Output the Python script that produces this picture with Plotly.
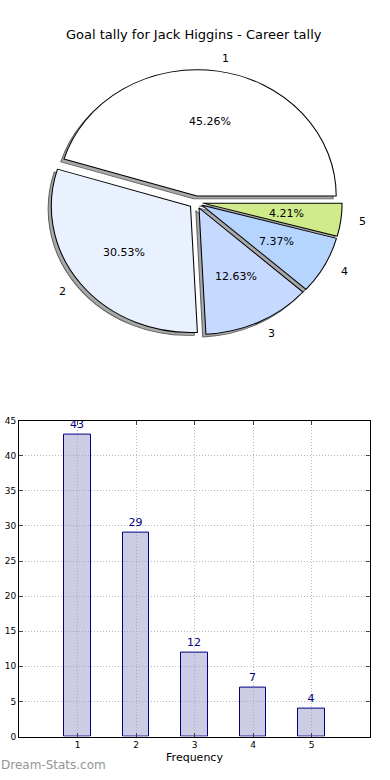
import math
import plotly.graph_objects as go

# ---- data ----
categories = ["1", "2", "3", "4", "5"]
goals = [43, 29, 12, 7, 4]
slice_colors = ["#ffffff", "#e9f1fe", "#c6d9ff", "#b5d5ff", "#cfeb8a"]
title_text = "Goal tally for Jack Higgins - Career tally"
y_ticks = [0, 5, 10, 15, 20, 25, 30, 35, 40, 45]

W, H = 390, 780
FONT = "DejaVu Sans"

# ---- pie geometry (pixels) ----
pull = 0.05
cx, cy = 196, 200
r = 134.5                 # base radius of the plotly pie
rx, ry = 141.0, 128.0     # the reference pie is slightly elliptical
sx, sy = rx / r, ry / r
half = r * (1 + pull)     # half-size of the domain

def px_dom_x(a, b):
    return [a / W, b / W]

def px_dom_y(top, bottom):
    return [(H - bottom) / H, (H - top) / H]

total = sum(goals)
rotation = 90 - 360 * goals[0] / total

fig = go.Figure()

# shadow pie
sdx, sdy = -3, 3
fig.add_trace(go.Pie(
    values=goals, labels=categories, sort=False, direction="counterclockwise",
    rotation=rotation, pull=[pull] * len(goals),
    marker=dict(colors=["#a8a8a8"] * len(goals), line=dict(color="#606060", width=1)),
    textinfo="none", hoverinfo="skip", showlegend=False,
    domain=dict(x=px_dom_x(cx + sdx - half, cx + sdx + half),
                y=px_dom_y(cy + sdy - half, cy + sdy + half)),
))

# main pie
fig.add_trace(go.Pie(
    values=goals, labels=categories, sort=False, direction="counterclockwise",
    rotation=rotation, pull=[pull] * len(goals),
    marker=dict(colors=slice_colors, line=dict(color="#000000", width=1)),
    textinfo="none", showlegend=False,
    domain=dict(x=px_dom_x(cx - half, cx + half),
                y=px_dom_y(cy - half, cy + half)),
))

# pie texts (percentages and labels), positioned from the data
annotations = []
cum = 0
for lab, v in zip(categories, goals):
    a0 = 360 * cum / total
    a1 = 360 * (cum + v) / total
    cum += v
    am = math.radians((a0 + a1) / 2)
    ex = cx + pull * rx * math.cos(am)
    ey = cy - pull * ry * math.sin(am)
    pxp = ex + 0.6 * rx * math.cos(am)
    pyp = ey - 0.6 * ry * math.sin(am)
    annotations.append(dict(
        x=pxp / W, y=(H - pyp) / H, xref="paper", yref="paper",
        text=f"{100 * v / total:.2f}%", showarrow=False,
        xanchor="center", yanchor="middle",
        font=dict(family=FONT, size=11, color="#000000")))
    lx = ex + 1.1 * rx * math.cos(am)
    ly = ey - 1.1 * ry * math.sin(am)
    annotations.append(dict(
        x=lx / W, y=(H - ly) / H, xref="paper", yref="paper",
        text=lab, showarrow=False,
        xanchor="left" if math.cos(am) > 0 else "right", yanchor="middle",
        font=dict(family=FONT, size=11, color="#000000")))

# bar chart
x_vals = [int(c) for c in categories]
fig.add_trace(go.Bar(
    x=x_vals, y=goals, width=0.45,
    marker=dict(color="rgba(153,153,204,0.5)", line=dict(color="#000080", width=1)),
    text=[str(g) for g in goals], textposition="outside", cliponaxis=False,
    textfont=dict(family=FONT, size=11, color="#000080"),
    showlegend=False, xaxis="x", yaxis="y",
))

annotations.append(dict(
    x=194 / W, y=(H - 30) / H, xref="paper", yref="paper", text=title_text,
    showarrow=False, xanchor="center", yanchor="middle",
    font=dict(family=FONT, size=13, color="#000000")))
annotations.append(dict(
    x=-1 / W, y=(H - 770) / H, xref="paper", yref="paper", text="Dream-Stats.com",
    showarrow=False, xanchor="left", yanchor="middle",
    font=dict(family=FONT, size=12, color="#959595")))

grid_style = dict(showgrid=True, gridcolor="#b8b8b8", griddash="1px,2px", gridwidth=1)
fig.update_layout(
    width=W, height=H, margin=dict(l=0, r=0, t=0, b=0),
    paper_bgcolor="white", plot_bgcolor="white",
    font=dict(family=FONT, size=9, color="#000000"),
    annotations=annotations,
    bargap=0,
    xaxis=dict(domain=[19 / W, 370 / W], range=[0, 6], tickvals=x_vals,
               ticktext=categories, ticks="inside", ticklen=4, mirror="ticks",
               showline=True, linecolor="black", linewidth=1, zeroline=False,
               tickfont=dict(family=FONT, size=9),
               title=dict(text="Frequency", font=dict(family=FONT, size=11), standoff=4),
               **grid_style),
    yaxis=dict(domain=[(H - 741) / H, (H - 421) / H], range=[0, 45], tickvals=y_ticks,
               ticks="inside", ticklen=4, mirror="ticks",
               showline=True, linecolor="black", linewidth=1, zeroline=False,
               tickfont=dict(family=FONT, size=9), **grid_style),
)

post = (
    "document.body.style.margin='0px';"
    "var gd=document.getElementById('{plot_id}');"
    "var pl=gd.querySelector('.pielayer');"
    "if(pl){pl.setAttribute('transform','translate(%g,%g) scale(%g,%g) translate(%g,%g)');}"
    % (cx, cy, sx, sy, -cx, -cy)
)
fig.write_html("out.html", post_script=post, config={"displayModeBar": False})
